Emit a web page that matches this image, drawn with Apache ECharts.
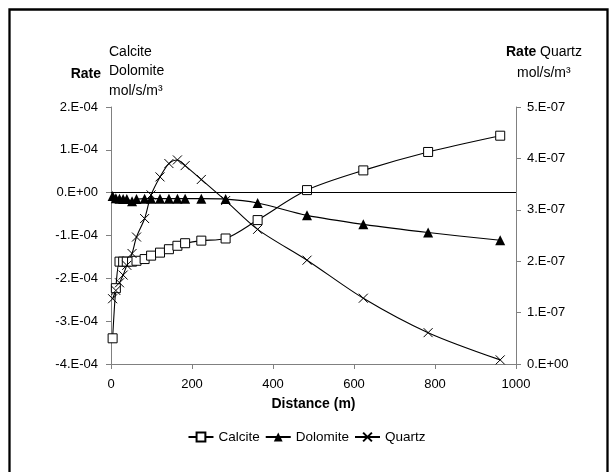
<!DOCTYPE html>
<html>
<head>
<meta charset="utf-8">
<script src="https://cdn.jsdelivr.net/npm/echarts@6/dist/echarts.min.js"></script>
<style>
html,body{margin:0;padding:0;background:#fff;}
#chart{width:613px;height:472px;}
</style>
</head>
<body>
<div id="chart"></div>
<script>
// Distance (m)
const distance = [4, 12, 21, 30, 39, 52, 63, 83, 99, 121, 143, 164, 183, 223, 283, 362, 484, 623, 783, 961];
// Rate, mol/s/m3 (left axis)
const calcite = [-3.40e-4, -2.23e-4, -1.61e-4, -1.61e-4, -1.61e-4, -1.61e-4, -1.59e-4, -1.55e-4, -1.47e-4, -1.40e-4,
                 -1.32e-4, -1.24e-4, -1.18e-4, -1.12e-4, -1.07e-4, -0.64e-4, 0.06e-4, 0.52e-4, 0.95e-4, 1.33e-4];
const dolomite = [-0.08e-4, -0.13e-4, -0.14e-4, -0.15e-4, -0.15e-4, -0.20e-4, -0.15e-4, -0.14e-4, -0.14e-4, -0.14e-4,
                  -0.14e-4, -0.14e-4, -0.14e-4, -0.14e-4, -0.15e-4, -0.24e-4, -0.53e-4, -0.74e-4, -0.93e-4, -1.11e-4];
// Rate, mol/s/m3 (right axis)
const quartz = [1.27e-7, 1.43e-7, 1.58e-7, 1.73e-7, 1.92e-7, 2.15e-7, 2.47e-7, 2.83e-7, 3.29e-7, 3.64e-7,
                3.90e-7, 3.97e-7, 3.86e-7, 3.59e-7, 3.18e-7, 2.62e-7, 2.02e-7, 1.28e-7, 0.61e-7, 0.08e-7];
const seriesNames = ['Calcite', 'Dolomite', 'Quartz'];

function pairs(xs, ys){ return xs.map((x,i)=>[x, ys[i]]); }
function sci(v){
  const s = v.toExponential(0); // e.g. "1e-4"
  const m = s.split('e');
  const e = parseInt(m[1],10);
  const ex = (e<0?'-':'+') + String(Math.abs(e)).padStart(2,'0');
  return m[0] + '.E' + ex;
}

const FONT = '"Liberation Sans", Arial, sans-serif';
const crossPath = 'path://M0,0L10,10M10,0L0,10';

const chart = echarts.init(document.getElementById('chart'), null, {renderer:'canvas'});
const axisLineGray = {show:true, lineStyle:{color:'#808080', width:1}};
const option = {
  animation:false,
  backgroundColor:'#fff',
  textStyle:{fontFamily:FONT},
  grid:{left:111, right:97, top:107, bottom:108, containLabel:false},
  legend:{
    data:seriesNames, bottom:23, left:'center',
    itemWidth:25, itemHeight:11, itemGap:5,
    textStyle:{fontFamily:FONT, fontSize:13.5, color:'#000'},
  },
  xAxis:{
    type:'value', min:0, max:1000, interval:200,
    name:'Distance (m)', nameLocation:'middle', nameGap:33,
    nameTextStyle:{fontFamily:FONT, fontSize:14, fontWeight:'bold', color:'#000'},
    axisLine:{show:true, onZero:false, lineStyle:{color:'#808080'}},
    axisTick:{show:true, inside:false, length:5, lineStyle:{color:'#808080'}},
    axisLabel:{fontFamily:FONT, fontSize:13, color:'#000', margin:14, formatter:(v)=>String(v)},
    splitLine:{show:false}
  },
  yAxis:[
    {
      type:'value', min:-4e-4, max:2e-4, interval:1e-4, position:'left',
      axisLine:axisLineGray,
      axisTick:{show:true, length:5, lineStyle:{color:'#808080'}},
      axisLabel:{fontFamily:FONT, fontSize:13, color:'#000', margin:13, formatter:sci},
      splitLine:{show:false}
    },
    {
      type:'value', min:0, max:5e-7, interval:1e-7, position:'right',
      axisLine:axisLineGray,
      axisTick:{show:true, length:5, lineStyle:{color:'#808080'}},
      axisLabel:{fontFamily:FONT, fontSize:13, color:'#000', margin:11, formatter:sci},
      splitLine:{show:false}
    }
  ],
  series:[
    {
      name:'Calcite', type:'line', yAxisIndex:0, data:pairs(distance, calcite),
      smooth:0.3, symbol:'rect', symbolSize:9, showAllSymbol:true,
      lineStyle:{color:'#000', width:1.1},
      itemStyle:{color:'#fff', borderColor:'#000', borderWidth:1},
      markLine:{silent:true, symbol:['none','none'], label:{show:false},
        lineStyle:{color:'#000', width:1, type:'solid'}, data:[{yAxis:0}]},
      z:3
    },
    {
      name:'Dolomite', type:'line', yAxisIndex:0, data:pairs(distance, dolomite),
      smooth:0.3, symbol:'triangle', symbolSize:10, showAllSymbol:true,
      lineStyle:{color:'#000', width:1.1},
      itemStyle:{color:'#000', borderColor:'#000', borderWidth:0},
      z:3
    },
    {
      name:'Quartz', type:'line', yAxisIndex:1, data:pairs(distance, quartz),
      smooth:0.3, symbol:crossPath, symbolSize:9, showAllSymbol:true,
      lineStyle:{color:'#000', width:1.1},
      itemStyle:{color:'none', borderColor:'#000', borderWidth:1},
      z:3
    }
  ],
  graphic:[
    {type:'rect', left:7, top:7, shape:{width:598, height:475}, style:{fill:'none', stroke:'#000', lineWidth:2.3}, silent:true},
    {type:'text', x:101, y:74, style:{text:'Rate', font:'bold 14px '+FONT, fill:'#000', align:'right', verticalAlign:'middle'}},
    {type:'text', x:109, y:52, style:{text:'Calcite', font:'14px '+FONT, fill:'#000', align:'left', verticalAlign:'middle'}},
    {type:'text', x:109, y:71, style:{text:'Dolomite', font:'14px '+FONT, fill:'#000', align:'left', verticalAlign:'middle'}},
    {type:'text', x:109, y:91, style:{text:'mol/s/m³', font:'14px '+FONT, fill:'#000', align:'left', verticalAlign:'middle'}},
    {type:'text', x:506, y:52, style:{text:'Rate', font:'bold 14px '+FONT, fill:'#000', align:'left', verticalAlign:'middle'}},
    {type:'text', x:540, y:52, style:{text:'Quartz', font:'14px '+FONT, fill:'#000', align:'left', verticalAlign:'middle'}},
    {type:'text', x:517, y:73, style:{text:'mol/s/m³', font:'14px '+FONT, fill:'#000', align:'left', verticalAlign:'middle'}}
  ]
};
chart.setOption(option);
</script>
</body>
</html>
